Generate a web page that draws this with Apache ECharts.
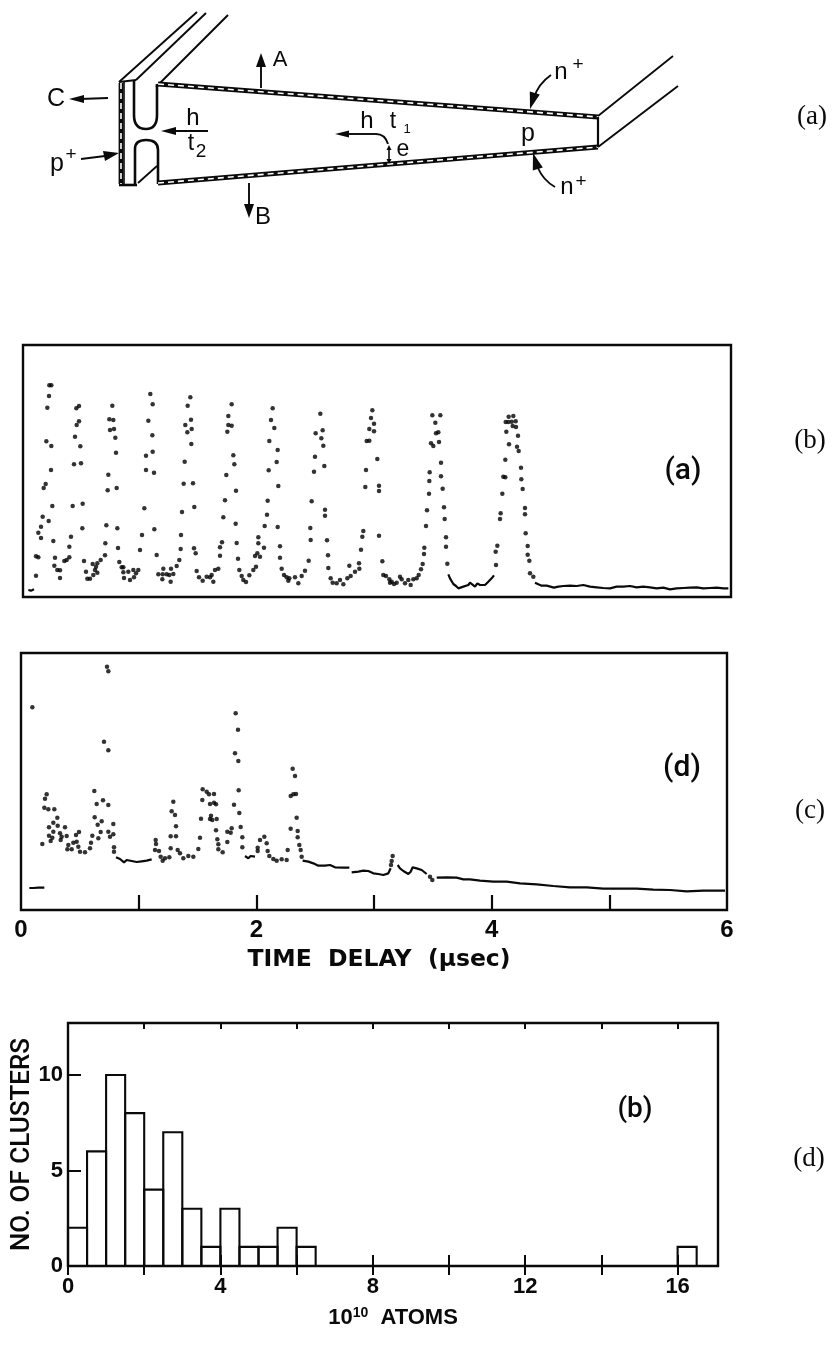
<!DOCTYPE html>
<html><head><meta charset="utf-8">
<style>html,body{margin:0;padding:0;background:#fff}#c{width:839px;height:1346px}</style>
<script src="https://cdn.jsdelivr.net/npm/echarts@6/dist/echarts.min.js"></script>
</head><body><div id="c"></div>
<script>
// Trace (a): digitiser channel, signal counts
const CH_PER_USEC_A = 354;
const CH_PER_USEC_D = 353;
const traceA_dots = [
[39,64],[39,122],[46,119],[46,193],[54,177],[54,211],[59,241],[77,228],[88,273],[62,327],[68,339],[84,381],[70,467],[85,453],[73,568],[78,603],[79,635],[85,635],
[91,168],[96,118],[94,94],[103,81],[111,80],[111,57],[124,108],[131,111],[139,119],[139,151],[144,181],[149,273],[179,280],[178,206],[153,398],[174,401],[156,481],[172,452],[161,516],[168,527],[160,566],[168,573],
[183,108],[189,76],[193,55],[201,55],[209,99],[223,101],[219,91],[216,81],[223,73],[211,66],[233,111],[246,125],[247,161],[250,215],[283,206],[254,320],[281,327],[256,367],[279,433],[277,478],[261,501],[273,504],[259,533],[271,531],[268,574],
[285,147],[289,105],[296,89],[301,89],[301,74],[303,57],[316,76],[321,51],[331,81],[339,71],[333,59],[346,81],[351,141],[357,186],[364,266],[369,381],[393,373],[369,424],[389,436],[388,485],[376,529],[389,578],[382,609],[394,203],[401,126],
[406,68],[421,85],[419,68],[418,53],[431,68],[444,85],[439,66],[451,69],[443,46],[461,93],[469,111],[473,144],[474,186],[477,255],[514,270],[482,340],[510,341],[485,406],[505,459],[493,494],[506,504],[487,516],[504,532],[494,574],[502,599],[513,146],[518,131],
[521,78],[528,59],[539,49],[551,61],[561,59],[571,46],[566,66],[576,81],[586,85],[591,124],[591,149],[597,164],[601,239],[606,290],[610,366],[634,398],[631,425],[639,319],[638,220],[641,162],[645,115],[613,496],[616,516],[626,514],[616,543],[626,578],
[649,81],[656,63],[661,51],[669,45],[679,65],[699,91],[691,81],[703,131],[706,161],[706,179],[696,123],[711,121],[723,148],[725,213],[732,247],[734,289],[737,380],[761,405],[764,441],[766,333],[764,210],[771,152],[771,118],[739,468],[754,507],[744,531],[749,566],
[776,85],[783,66],[791,59],[799,56],[796,49],[816,59],[826,41],[836,63],[846,79],[857,109],[863,171],[862,207],[866,287],[873,376],[876,421],[904,393],[901,454],[895,476],[878,491],[899,500],[892,550],[906,262],[906,244],[912,170],[915,125],
[916,87],[923,56],[929,43],[941,41],[951,51],[961,38],[973,56],[983,63],[979,94],[996,76],[1009,85],[1008,101],[1014,142],[1018,181],[1021,198],[1027,330],[1029,381],[1031,468],[1039,469],[1039,504],[1053,497],[1053,520],[1044,537],[1048,560],[1063,414],[1068,334],[1068,318],[1068,184],
[1078,107],[1081,66],[1089,63],[1099,53],[1106,46],[1113,39],[1121,43],[1101,43],[1131,61],[1136,53],[1146,41],[1156,51],[1163,36],[1171,53],[1181,56],[1187,66],[1194,83],[1199,99],[1203,129],[1204,148],[1209,213],[1212,260],[1218,310],[1219,348],[1220,374],[1254,403],[1254,362],[1259,325],[1263,269],[1265,234],[1269,179],[1269,151],[1273,100],[1224,461],[1231,453],[1248,465],[1239,491],[1246,494],[1237,523],[1228,545],[1252,545],
[1419,96],[1418,136],[1423,154],[1431,234],[1433,251],[1438,310],[1441,361],[1447,359],[1447,412],[1458,458],[1450,496],[1448,525],[1456,525],[1466,526],[1478,527],[1457,541],[1471,543],[1469,513],[1479,510],[1485,484],[1482,451],[1487,438],[1494,388],[1495,353],[1499,324],[1506,267],[1506,248],[1508,191],[1514,153],[1514,127],[1519,109],[1521,71],[1531,61]
];
const traceA_start = [[16,21],[24,19],[33,23]];
const traceA_valley = [[1276,68],[1281,56],[1291,39],[1299,33],[1306,26],[1321,31],[1336,36],[1341,43],[1356,31],[1363,41],[1371,36],[1386,36],[1396,46],[1406,56],[1413,65]];
const traceA_tail = [[1536,43],[1546,38],[1556,34],[1571,34],[1593,28],[1606,31],[1621,33],[1641,34],[1661,33],[1681,36],[1701,31],[1721,29],[1741,27],[1761,26],[1781,31],[1801,31],[1821,33],[1841,29],[1861,31],[1881,29],[1901,26],[1921,28],[1941,23],[1961,26],[1981,27],[2001,28],[2021,29],[2041,26],[2061,27],[2081,28],[2101,26],[2116,26]];

// Trace (d)
const traceD_dots = [
[34,608],[64,198],[77,347],[72,334],[70,307],[82,302],[100,302],[109,277],[97,262],[110,253],[84,248],[132,248],[97,235],[84,223],[94,217],[89,207],[117,230],[122,220],[137,222],[119,210],[142,195],[139,182],[152,182],[157,202],[165,225],[174,234],[167,205],[172,190],[177,175],[192,173],[207,185],[210,202],[214,223],[220,357],[227,318],[221,278],[230,256],[242,266],[239,234],[232,215],[246,329],[249,505],[258,730],[262,716],[262,479],[262,315],[277,258],[262,235],[277,227],[267,220],[279,188],[279,175],
[404,210],[405,198],[402,180],[414,177],[419,160],[425,148],[432,155],[445,158],[449,185],[449,221],[465,221],[457,325],[452,296],[462,285],[465,251],[470,180],[477,170],[487,155],[502,162],[517,160],[532,183],[537,217],[540,274],[544,330],[545,362],[557,355],[564,347],[579,348],[567,318],[579,322],[585,317],[570,283],[567,273],[574,270],[587,273],[585,239],[589,212],[592,197],[592,182],[605,173],[619,204],[619,235],[629,232],[632,245],[639,316],[642,470],[644,590],[651,541],[652,447],[653,359],[655,291],[659,249],[664,218],[664,188],
[710,187],[710,177],[717,210],[730,220],[737,200],[740,177],[745,162],[757,153],[767,148],[782,152],[797,150],[800,180],[809,244],[809,342],[817,347],[825,348],[815,424],[822,402],[827,277],[830,237],[830,218],[835,195],[839,180],[842,160],
[1110,135],[1112,147],[1115,162],[1227,100],[1234,90]
];
const traceD_start = [[25,66],[37,66],[52,67],[70,67]];
const traceD_floor1 = [[285,158],[297,153],[309,143],[317,150],[332,147],[347,144],[362,146],[377,148],[392,152]];
const traceD_floor2 = [[672,162],[682,155],[689,162],[702,160]];
const traceD_floor3 = [[845,148],[862,145],[877,140],[892,133],[912,133],[927,135],[942,128],[967,127],[985,127]];
const traceD_floor4 = [[992,113],[1012,115],[1027,118],[1042,117],[1057,110],[1072,108],[1087,105],[1102,110],[1109,125]];
const traceD_floor5 = [[1130,135],[1137,125],[1147,117],[1162,108],[1169,115],[1175,128],[1187,125],[1202,120],[1217,108]];
const traceD_tail = [[1247,97],[1277,98],[1307,97],[1327,92],[1347,92],[1377,88],[1417,85],[1457,85],[1497,80],[1547,77],[1597,72],[1647,68],[1697,68],[1747,64],[1797,64],[1847,64],[1897,61],[1947,60],[1997,56],[2047,58],[2112,58]];

const timeTickLabels = [0,2,4,6];
const timeTicks = [1,2,3,4,5];

// Histogram
const atomBinStart = [0,0.5,1,1.5,2,2.5,3,3.5,4,4.5,5,5.5,6,16];
const clusterCounts = [2,6,10,8,4,7,3,1,3,1,1,2,1,1];
const BIN_WIDTH = 0.5;
const atomTicks = [0,2,4,6,8,10,12,14,16];
const atomLabels = [0,4,8,12,16];
const clusterLabels = [0,5,10];

const INK = '#0a0a0a';
const SANS = '"Liberation Sans", Arial, sans-serif';
const SERIF = '"Liberation Serif", serif';
const WIDE = '"DejaVu Sans", sans-serif';
const toA = p => [p[0]/CH_PER_USEC_A, p[1]];
const toD = p => [p[0]/CH_PER_USEC_D, p[1]];

function dots(data, x, y){
  return {type:'scatter', xAxisIndex:x, yAxisIndex:y, data, symbol:'circle', symbolSize:4.5, itemStyle:{color:'#000'}, silent:true, animation:false};
}
function trace(data, x, y){
  return {type:'line', xAxisIndex:x, yAxisIndex:y, data, showSymbol:false, lineStyle:{color:INK,width:2.2}, silent:true, animation:false};
}
const hidden = {axisLine:{show:false}, axisTick:{show:false}, axisLabel:{show:false}, splitLine:{show:false}};

// Schematic drawing (not data)
const line = (pts,w,extra) => ({type:'polyline', shape:{points:pts}, silent:true, style:Object.assign({stroke:INK,lineWidth:w||1.9,fill:'none'},extra||{})});
const quad = (a,c,b,w) => ({type:'bezierCurve', shape:{x1:a[0],y1:a[1],x2:b[0],y2:b[1],cpx1:c[0],cpy1:c[1]}, silent:true, style:{stroke:INK,lineWidth:w||1.8,fill:'none'}});
const head = (x,y,dx,dy,len,wid) => { // tip at x,y pointing along dx,dy
  const bx=x-dx*len, by=y-dy*len, nx=-dy*wid, ny=dx*wid;
  return {type:'polygon', shape:{points:[[x,y],[bx+nx,by+ny],[bx-nx,by-ny]]}, silent:true, style:{fill:INK}};
};
const txt = (t,x,y,size,font,w) => ({type:'text', x, y, silent:true, style:{text:t, fill:INK, font:`${w||'normal'} ${size}px ${font||SANS}`, textAlign:'center', textVerticalAlign:'middle'}});
const doped = (a,b) => [line([a,b],4.8), line([a,b],1.6,{stroke:'#fff',lineDash:[6,4]})];

const schematic = [
  line([[119,82],[197,12]]), line([[136,80],[206,13]]), line([[156,87],[228,15]]),
  line([[119,82],[136,80]],2), line([[119,185],[137,185]],2.6),
  ...doped([121,83],[121,184]), line([[124,82],[124,185]],1.6),
  line([[134,81],[134,115]],2.6), quad([134,115],[134,129],[146,129],2.6), quad([146,129],[157,129],[157,115],2.6), line([[157,115],[157,84]],2.6),
  line([[135,185],[135,149]],2.6), quad([135,149],[135,140],[146,140],2.6), quad([146,140],[158,140],[158,150],2.6), line([[158,150],[158,184]],2.6),
  line([[138,183],[157,166]],1.8),
  ...doped([158,84],[598,117]), ...doped([158,183],[598,147]),
  line([[598,117],[598,147]],2.2),
  line([[598,116],[673,56]]), line([[598,147],[678,86]]),
  line([[261,88],[261,62]]), head(261,53,0,-1,14,5),
  line([[108,98],[80,99]]), head(69,99,-1,0,15,4),
  line([[81,159],[105,156]]), head(119,153,1,-0.2,15,5),
  line([[208,131],[172,131]]), head(161,131,-1,0,15,4),
  line([[249,183],[249,206]]), head(249,218,0,1,14,5),
  line([[346,134],[376,134]],1.9), quad([376,134],[385,134],[388,144],1.9), head(335,134,-1,0,14,3.5),
  line([[389,147],[389,163]],1.6), head(389,145,0,-1,5,2.5), head(389,164,0,1,5,2.5),
  quad([551,75],[538,84],[534,98],1.9), head(530,109,-0.3,1,16,5),
  quad([555,187],[543,180],[538,168],1.9), head(533,153,-0.3,-1,16,5),
  txt('A',280,60,22), txt('C',56,99,25), txt('p',57,164,25), txt('+',71,155,19),
  txt('h',193,118,24), txt('t',191,144,23), txt('2',201,152,19),
  txt('B',263,217,24), txt('h',367,121,24), txt('t',393,122,23), txt('1',407,129,13),
  txt('e',403,150,23), txt('p',528,134,25),
  txt('n',561,72,24), txt('+',578,65,19), txt('n',567,187,24), txt('+',581,182,19),
  // panel letters
  txt('(a)',683,471,30,'Roboto','500'), txt('(d)',682,768,30,'Roboto','500'), txt('(b)',635,1110,28,'Roboto','500'),
  // right-hand labels
  txt('(a)',812,117,27,SERIF), txt('(b)',810,441,27,SERIF), txt('(c)',810,811,27,SERIF), txt('(d)',809,1159,27,SERIF)
];

const chart = echarts.init(document.getElementById('c'), null, {renderer:'canvas'});
chart.setOption({
  backgroundColor:'#fff',
  animation:false,
  grid:[
    {left:23, top:345, width:708, height:252, show:true, borderColor:INK, borderWidth:2.4, backgroundColor:'transparent', outerBoundsMode:'none'},
    {left:21, top:653, width:706, height:257, show:true, borderColor:INK, borderWidth:2.4, backgroundColor:'transparent', outerBoundsMode:'none'},
    {left:68, top:1023, width:650, height:243, show:true, borderColor:INK, borderWidth:2.4, backgroundColor:'transparent', outerBoundsMode:'none'}
  ],
  xAxis:[
    Object.assign({type:'value', gridIndex:0, min:0, max:6}, hidden),
    {type:'value', gridIndex:1, min:0, max:6, position:'bottom',
      name:'TIME  DELAY  (µsec)', nameLocation:'middle', nameGap:38,
      nameTextStyle:{fontFamily:WIDE, fontSize:23.5, fontWeight:'bold', color:INK, padding:[0,0,0,10]},
      axisLine:{show:false}, splitLine:{show:false},
      axisTick:{show:true, inside:true, length:15, customValues:timeTicks, lineStyle:{color:INK,width:2.2}},
      axisLabel:{show:true, margin:8, customValues:timeTickLabels, fontFamily:SANS, fontSize:24, fontWeight:'bold', color:INK}},
    {type:'value', gridIndex:2, min:0, max:17.06, position:'bottom',
      name:'{a|10}{s|10}{a|  ATOMS}', nameLocation:'middle', nameGap:40,
      nameTextStyle:{rich:{a:{fontFamily:SANS,fontSize:22,fontWeight:'bold',color:INK},s:{fontFamily:SANS,fontSize:14,fontWeight:'bold',color:INK,padding:[0,0,9,0]}}},
      axisLine:{show:false}, splitLine:{show:false},
      axisTick:{show:true, inside:true, length:11, customValues:atomTicks, lineStyle:{color:INK,width:2}},
      axisLabel:{show:true, margin:10, customValues:atomLabels, fontFamily:SANS, fontSize:22, fontWeight:'bold', color:INK}},
    {type:'value', gridIndex:2, min:0, max:17.06, position:'bottom', axisLine:{show:false}, splitLine:{show:false}, axisLabel:{show:false},
      axisTick:{show:true, inside:false, length:9, customValues:atomTicks, lineStyle:{color:INK,width:2}}},
    {type:'value', gridIndex:2, min:0, max:17.06, position:'top', axisLine:{show:false}, splitLine:{show:false}, axisLabel:{show:false},
      axisTick:{show:true, inside:true, length:6, customValues:atomTicks.slice(1), lineStyle:{color:INK,width:2}}}
  ],
  yAxis:[
    Object.assign({type:'value', gridIndex:0, min:0, max:756}, hidden),
    Object.assign({type:'value', gridIndex:1, min:0, max:771}, hidden),
    {type:'value', gridIndex:2, min:0, max:12.72,
      name:'NO. OF CLUSTERS', nameLocation:'middle', nameGap:33, nameMoveOverlap:false,
      nameTextStyle:{fontFamily:'Roboto', fontSize:26, fontWeight:500, color:INK},
      axisLine:{show:false}, splitLine:{show:false},
      axisTick:{show:true, inside:true, length:13, customValues:[5,10], lineStyle:{color:INK,width:2}},
      axisLabel:{show:true, margin:5, customValues:clusterLabels, fontFamily:SANS, fontSize:22, fontWeight:'bold', color:INK}}
  ],
  series:[
    dots(traceA_dots.map(toA),0,0), trace(traceA_start.map(toA),0,0), trace(traceA_valley.map(toA),0,0), trace(traceA_tail.map(toA),0,0),
    dots(traceD_dots.map(toD),1,1), trace(traceD_start.map(toD),1,1), trace(traceD_floor1.map(toD),1,1), trace(traceD_floor2.map(toD),1,1),
    trace(traceD_floor3.map(toD),1,1), trace(traceD_floor4.map(toD),1,1), trace(traceD_floor5.map(toD),1,1), trace(traceD_tail.map(toD),1,1),
    {type:'custom', xAxisIndex:2, yAxisIndex:2, silent:true, animation:false,
      data:atomBinStart.map((s,i)=>[s, s+BIN_WIDTH, clusterCounts[i]]),
      encode:{x:[0,1], y:2},
      renderItem:(params,api)=>{
        const a=api.coord([api.value(0),0]), b=api.coord([api.value(1),api.value(2)]);
        return {type:'rect', shape:{x:a[0], y:b[1], width:b[0]-a[0], height:a[1]-b[1]}, style:{fill:'none', stroke:INK, lineWidth:2.1}};
      }}
  ],
  graphic:{elements:schematic}
});
</script></body></html>
